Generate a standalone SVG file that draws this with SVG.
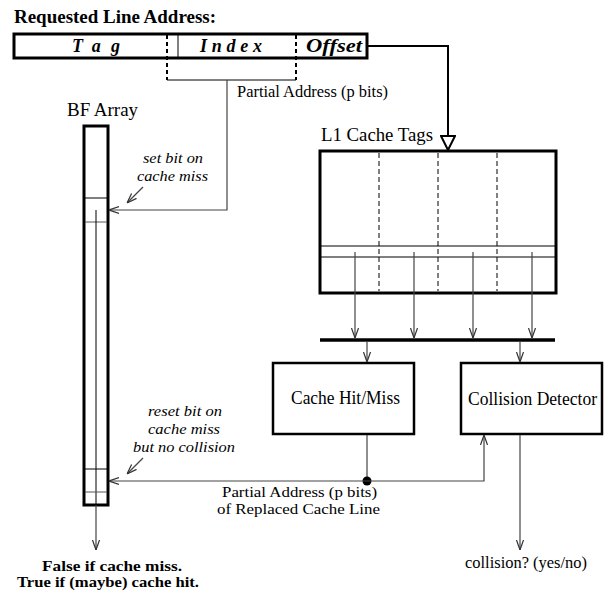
<svg xmlns="http://www.w3.org/2000/svg" width="605" height="593" viewBox="0 0 605 593">
  <style>
    text { font-family: "Liberation Serif", "Times New Roman", serif; fill: #000; }
    .lbl { font-size: 18px; }
    .note { font-size: 15.5px; font-style: italic; }
    .bold { font-weight: bold; }
    .fld { font-size: 18px; font-weight: bold; font-style: italic; }
    .thick { fill: #fff; stroke: #000; stroke-width: 3; }
    .box { fill: #fff; stroke: #000; stroke-width: 2.5; }
    .thin { fill: none; stroke: #000; stroke-width: 1; }
    .grey { fill: none; stroke: #555; stroke-width: 1; }
    .dash { fill: none; stroke: #000; stroke-width: 1; stroke-dasharray: 5 3; }
    .dash2 { fill: none; stroke: #000; stroke-width: 2; stroke-dasharray: 4 3; }
    .wire { fill: none; stroke: #444; stroke-width: 1.2; }
  </style>
  <defs>
    <marker id="arr" viewBox="0 0 10 10" refX="10" refY="5" markerWidth="10" markerHeight="10" markerUnits="userSpaceOnUse" orient="auto">
      <path d="M0,1.5 L10,5 L0,8.5" fill="none" stroke="#333" stroke-width="1.2"/>
    </marker>
    <marker id="tri" viewBox="0 0 16 16" refX="15" refY="8" markerWidth="16" markerHeight="16" markerUnits="userSpaceOnUse" orient="auto">
      <path d="M1,1 L15,8 L1,15 Z" fill="#fff" stroke="#000" stroke-width="2"/>
    </marker>
  </defs>

  <text x="14" y="23" class="bold" font-size="18" textLength="202" lengthAdjust="spacingAndGlyphs">Requested Line Address:</text>

  <!-- address word: tag | index | offset -->
  <g id="address">
    <rect x="14" y="34" width="353" height="24" class="thick"/>
    <line x1="178" y1="34" x2="178" y2="58" class="thin"/>
    <line x1="167" y1="35" x2="167" y2="80" class="dash2"/>
    <line x1="296" y1="35" x2="296" y2="80" class="dash2"/>
    <text x="72" y="52" class="fld" textLength="48" lengthAdjust="spacing">Tag</text>
    <text x="200" y="52" class="fld" textLength="62" lengthAdjust="spacing">Index</text>
    <text x="306" y="52" class="fld" textLength="56" lengthAdjust="spacingAndGlyphs">Offset</text>
  </g>

  <g id="bf-array">
    <text x="67" y="116" font-size="19" textLength="71" lengthAdjust="spacingAndGlyphs">BF Array</text>
    <rect x="84" y="126" width="24" height="379" class="thick"/>
    <line x1="85" y1="198" x2="107" y2="198" class="thin"/>
    <line x1="85" y1="222" x2="107" y2="222" class="grey"/>
    <line x1="96" y1="210" x2="96" y2="504" class="thin"/>
    <line x1="85" y1="469" x2="107" y2="469" class="thin"/>
    <line x1="85" y1="492" x2="107" y2="492" class="grey"/>
  </g>

  <g id="l1-tags">
    <text x="321" y="141" font-size="19.5" textLength="112" lengthAdjust="spacingAndGlyphs">L1 Cache Tags</text>
    <rect x="320" y="151" width="236" height="142" class="thick"/>
    <line x1="379" y1="153" x2="379" y2="291" class="dash"/>
    <line x1="438" y1="153" x2="438" y2="291" class="dash"/>
    <line x1="497" y1="153" x2="497" y2="291" class="dash"/>
    <line x1="321" y1="246" x2="555" y2="246" class="thin"/>
    <line x1="321" y1="257" x2="555" y2="257" class="thin"/>
  </g>

  <g id="hit-miss">
    <rect x="273" y="363" width="141" height="71" class="box"/>
    <text x="291" y="404" class="lbl" textLength="109" lengthAdjust="spacingAndGlyphs">Cache Hit/Miss</text>
  </g>

  <g id="collision-detector">
    <rect x="461" y="363" width="141" height="71" class="box"/>
    <text x="468" y="405" class="lbl" textLength="129" lengthAdjust="spacingAndGlyphs">Collision Detector</text>
  </g>

  <g id="connectors">
    <!-- offset field to tag array -->
    <polyline points="367,46 448,46 448,150" fill="none" stroke="#000" stroke-width="2" marker-end="url(#tri)"/>
    <!-- partial address bracket -->
    <line x1="167" y1="80" x2="296" y2="80" class="thin"/>
    <polyline points="227,80 227,210 109,210" class="wire" marker-end="url(#arr)"/>
    <line x1="143" y1="187" x2="127" y2="203" class="wire" marker-end="url(#arr)"/>
    <!-- tag ways to bus -->
    <line x1="355" y1="252" x2="355" y2="338" class="wire" marker-end="url(#arr)"/>
    <line x1="414" y1="252" x2="414" y2="338" class="wire" marker-end="url(#arr)"/>
    <line x1="473" y1="252" x2="473" y2="338" class="wire" marker-end="url(#arr)"/>
    <line x1="532" y1="252" x2="532" y2="338" class="wire" marker-end="url(#arr)"/>
    <line x1="320" y1="340" x2="555" y2="340" stroke="#000" stroke-width="3.5"/>
    <line x1="367" y1="342" x2="367" y2="362" class="wire" marker-end="url(#arr)"/>
    <line x1="520" y1="342" x2="520" y2="362" class="wire" marker-end="url(#arr)"/>
    <!-- replaced line address -->
    <line x1="367" y1="435" x2="367" y2="481" class="wire"/>
    <circle cx="367" cy="481" r="4.5" fill="#000"/>
    <polyline points="367,481 109,481" class="wire" marker-end="url(#arr)"/>
    <polyline points="367,481 484,481 484,435" class="wire" marker-end="url(#arr)"/>
    <line x1="143" y1="458" x2="127" y2="474" class="wire" marker-end="url(#arr)"/>
    <!-- outputs -->
    <line x1="96" y1="505" x2="96" y2="550" class="wire" marker-end="url(#arr)"/>
    <line x1="520" y1="435" x2="520" y2="550" class="wire" marker-end="url(#arr)"/>
  </g>

  <text x="237" y="97" font-size="16.5" textLength="151" lengthAdjust="spacingAndGlyphs">Partial Address (p bits)</text>
  <text x="143" y="163" class="note" textLength="60" lengthAdjust="spacingAndGlyphs">set bit on</text>
  <text x="137" y="181" class="note" textLength="71" lengthAdjust="spacingAndGlyphs">cache miss</text>
  <text x="148" y="416" class="note" textLength="74" lengthAdjust="spacingAndGlyphs">reset bit on</text>
  <text x="148" y="434" class="note" textLength="72" lengthAdjust="spacingAndGlyphs">cache miss</text>
  <text x="133" y="452" class="note" textLength="102" lengthAdjust="spacingAndGlyphs">but no collision</text>
  <text x="222" y="497" font-size="15" textLength="155" lengthAdjust="spacingAndGlyphs">Partial Address (p bits)</text>
  <text x="217" y="514" font-size="15" textLength="163" lengthAdjust="spacingAndGlyphs">of Replaced Cache Line</text>
  <text x="42" y="571" class="bold" font-size="15" textLength="140" lengthAdjust="spacingAndGlyphs">False if cache miss.</text>
  <text x="17" y="587" class="bold" font-size="15" textLength="182" lengthAdjust="spacingAndGlyphs">True if (maybe) cache hit.</text>
  <text x="465" y="568" font-size="16.5" textLength="122" lengthAdjust="spacingAndGlyphs">collision? (yes/no)</text>
</svg>
